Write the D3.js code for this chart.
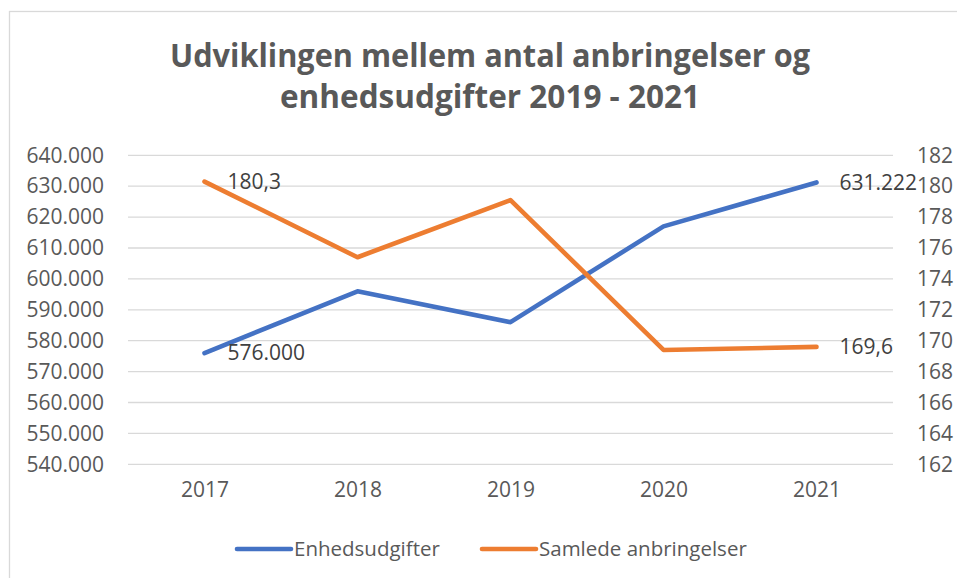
<!DOCTYPE html>
<html>
  <head>
    <meta charset="utf-8">
    <title>Udviklingen mellem antal anbringelser og enhedsudgifter</title>
    <style>
      body { margin: 0; background: #fff; }
      svg { display: block; font-family: "Open Sans", sans-serif; }
      .tick text { fill: #595959; font-size: 21px; }
      .grid line { stroke: #d9d9d9; stroke-width: 1.3; }
      .title { fill: #595959; font-weight: bold; font-size: 32px; text-anchor: middle; }
      .lbl { fill: #404040; font-size: 21px; }
      .legend text { fill: #595959; font-size: 20.5px; }
    </style>
  </head>
  <body>
    <div id="chart"></div>
    <script src="https://d3js.org/d3.v7.min.js"></script>
    <script>
    // data
    var years = ['2017', '2018', '2019', '2020', '2021'];
    var enhedsudgifter = [576000, 596000, 586000, 617000, 631222];
    var anbringelser = [180.3, 175.4, 179.1, 169.4, 169.6];
    var leftTicks = [540000, 550000, 560000, 570000, 580000, 590000, 600000, 610000, 620000, 630000, 640000];
    var rightTicks = [162, 164, 166, 168, 170, 172, 174, 176, 178, 180, 182];
    var titleLines = ['Udviklingen mellem antal anbringelser og', 'enhedsudgifter 2019 - 2021'];
    var seriesNames = ['Enhedsudgifter', 'Samlede anbringelser'];
    var colors = ['#4472C4', '#ED7D31'];

    var W = 957, H = 578;
    var plot = { left: 128, right: 893, top: 155.3, bottom: 464.3 };

    var da = d3.formatLocale({ decimal: ',', thousands: '.', grouping: [3], currency: ['', ' kr'] });
    var fmtBig = da.format(',.0f');
    var fmtSmall = da.format(',.1f');

    var svg = d3.select('#chart').append('svg')
      .attr('width', W).attr('height', H);

    // chart frame (only left and top edges show)
    svg.append('rect')
      .attr('x', 9.5).attr('y', 11.5)
      .attr('width', 1000).attr('height', 700)
      .attr('fill', 'none').attr('stroke', '#d9d9d9').attr('stroke-width', 1.3);

    // title
    var titleWidths = [640, 420];
    var titleBase = [67, 108];
    titleLines.forEach(function(t, i) {
      var tx = svg.append('text').attr('class', 'title')
        .attr('x', 490).attr('y', titleBase[i]).text(t);
      if (tx.node().getComputedTextLength() > titleWidths[i]) {
        tx.attr('textLength', titleWidths[i]).attr('lengthAdjust', 'spacingAndGlyphs');
      }
    });

    var x = d3.scalePoint().domain(years).range([plot.left, plot.right]).padding(0.5);
    var yL = d3.scaleLinear().domain([540000, 640000]).range([plot.bottom, plot.top]);
    var yR = d3.scaleLinear().domain([162, 182]).range([plot.bottom, plot.top]);

    // gridlines
    svg.append('g').attr('class', 'grid')
      .selectAll('line').data(leftTicks).enter().append('line')
      .attr('x1', plot.left).attr('x2', plot.right)
      .attr('y1', function(d) { return yL(d); })
      .attr('y2', function(d) { return yL(d); });

    // axes
    var gL = svg.append('g')
      .attr('transform', 'translate(' + plot.left + ',0)')
      .call(d3.axisLeft(yL).tickValues(leftTicks).tickFormat(fmtBig).tickSize(0).tickPadding(24));
    var gR = svg.append('g')
      .attr('transform', 'translate(' + plot.right + ',0)')
      .call(d3.axisRight(yR).tickValues(rightTicks).tickSize(0).tickPadding(24));
    var gX = svg.append('g')
      .attr('transform', 'translate(0,' + plot.bottom + ')')
      .call(d3.axisBottom(x).tickSize(0).tickPadding(18));
    [gL, gR, gX].forEach(function(g) {
      g.select('.domain').remove();
      g.selectAll('text').attr('font-family', '"Open Sans", sans-serif');
    });
    gX.selectAll('text').style('font-size', '21px');

    // lines
    var lineL = d3.line().x(function(d, i) { return x(years[i]); }).y(function(d) { return yL(d); });
    var lineR = d3.line().x(function(d, i) { return x(years[i]); }).y(function(d) { return yR(d); });

    svg.append('path').datum(enhedsudgifter)
      .attr('d', lineL).attr('fill', 'none')
      .attr('stroke', colors[0]).attr('stroke-width', 4.6)
      .attr('stroke-linecap', 'round').attr('stroke-linejoin', 'round');
    svg.append('path').datum(anbringelser)
      .attr('d', lineR).attr('fill', 'none')
      .attr('stroke', colors[1]).attr('stroke-width', 4.6)
      .attr('stroke-linecap', 'round').attr('stroke-linejoin', 'round');

    // data labels, first and last point only
    var last = years.length - 1;
    var labels = [
      { i: 0, y: yL(enhedsudgifter[0]), t: fmtBig(enhedsudgifter[0]) },
      { i: last, y: yL(enhedsudgifter[last]), t: fmtBig(enhedsudgifter[last]) },
      { i: 0, y: yR(anbringelser[0]), t: fmtSmall(anbringelser[0]) },
      { i: last, y: yR(anbringelser[last]), t: fmtSmall(anbringelser[last]) }
    ];
    svg.selectAll('.lbl').data(labels).enter().append('text')
      .attr('class', 'lbl')
      .attr('x', function(d) { return x(years[d.i]) + 23; })
      .attr('y', function(d) { return d.y; })
      .attr('dy', '0.35em')
      .text(function(d) { return d.t; });

    // legend
    var legX = [237, 482];
    var leg = svg.append('g').attr('class', 'legend');
    seriesNames.forEach(function(n, i) {
      leg.append('line')
        .attr('x1', legX[i]).attr('x2', legX[i] + 54)
        .attr('y1', 549).attr('y2', 549)
        .attr('stroke', colors[i]).attr('stroke-width', 4.6)
        .attr('stroke-linecap', 'round');
      leg.append('text')
        .attr('x', legX[i] + 57).attr('y', 549).attr('dy', '0.35em')
        .text(n);
    });
    </script>
  </body>
</html>
